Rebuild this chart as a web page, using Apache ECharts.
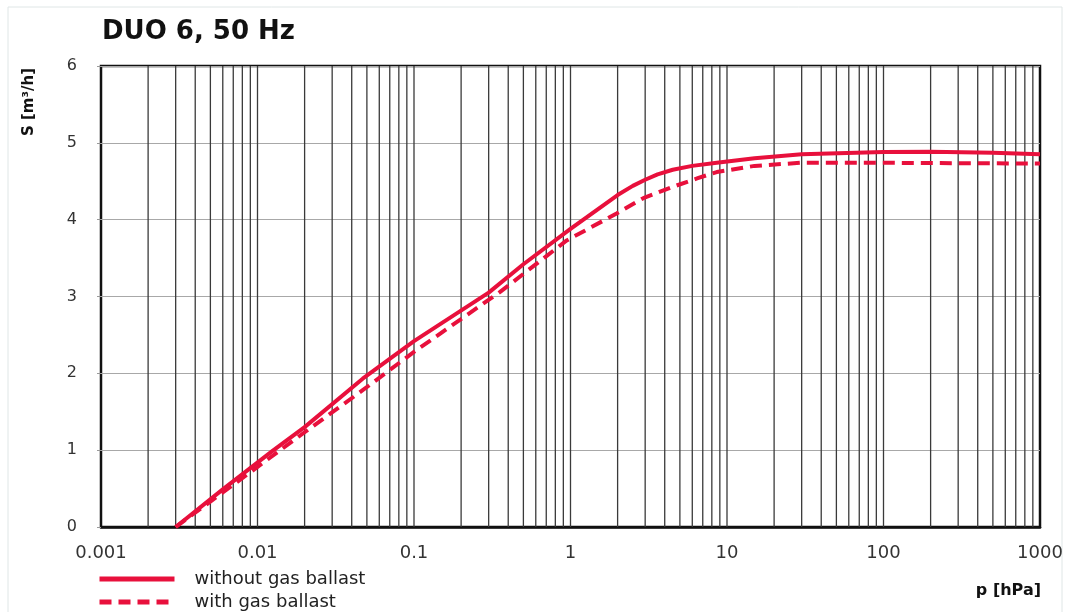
<!DOCTYPE html>
<html>
<head>
<meta charset="utf-8">
<script src="https://cdn.jsdelivr.net/npm/echarts@6/dist/echarts.min.js"></script>
<style>
html,body{margin:0;padding:0;background:#fff;}
#chart{width:1074px;height:612px;}
</style>
</head>
<body>
<div id="chart"></div>
<script>
// ---- data ----
const chartTitle = 'DUO 6, 50 Hz';
const yAxisName = 'S [m³/h]';
const xAxisName = 'p [hPa]';
const seriesNames = ['without gas ballast', 'with gas ballast'];

// without gas ballast: pressure (hPa) and pumping speed (m³/h)
const pWithout = [0.003, 0.006, 0.0123, 0.02, 0.047, 0.1, 0.3, 0.5, 1, 2, 2.5, 3, 3.6, 4.5, 6, 8.6, 15, 30, 100, 200, 500, 1000];
const sWithout = [0, 0.49, 0.98, 1.3, 1.93, 2.42, 3.05, 3.42, 3.88, 4.32, 4.44, 4.52, 4.59, 4.65, 4.7, 4.74, 4.8, 4.85, 4.88, 4.885, 4.87, 4.85];

// with gas ballast
const pWith = [0.003, 0.006, 0.0196, 0.047, 0.1, 0.355, 0.946, 1.97, 2.92, 4.54, 6.5, 8.6, 15, 29.3, 100, 1000];
const sWith = [0, 0.45, 1.22, 1.78, 2.28, 3.06, 3.73, 4.08, 4.28, 4.43, 4.54, 4.62, 4.7, 4.74, 4.74, 4.73];

// axis ticks
const xTickLabels = ['0.001', '0.01', '0.1', '1', '10', '100', '1000'];
const xDecades = [0.001, 0.01, 0.1, 1, 10, 100];
const gridMultipliers = [1, 2, 3, 4, 5, 6, 7, 8, 9];
const yTicks = [0, 1, 2, 3, 4, 5, 6];

// ---- build ----
const red = '#e8103c';
const vLineColor = '#3a3a3a';
const fontFam = '"DejaVu Sans", Arial, sans-serif';
const Y_MIN = 0, Y_MAX = 6;

const pair = (xs, ys) => xs.map((x, i) => [x, ys[i]]);
const vLineValues = [];
xDecades.forEach((d, i) => gridMultipliers.forEach(m => {
  if (i === 0 && m === 1) return; // left edge is the frame
  vLineValues.push([+(d * m).toPrecision(3), Y_MIN]);
}));

const legendBase = {
  orient: 'vertical',
  left: 97,
  padding: 0,
  itemWidth: 75, itemHeight: 14,
  itemStyle: { color: 'rgba(0,0,0,0)', borderWidth: 0, opacity: 0 },
  lineStyle: { width: 5 },
  textStyle: { fontFamily: fontFam, fontSize: 18, color: '#222', padding: [0, 0, 0, 15] }
};

const chart = echarts.init(document.getElementById('chart'), null, { renderer: 'canvas' });
chart.setOption({
  animation: false,
  backgroundColor: '#fff',
  title: {
    text: chartTitle,
    left: 102, top: 19,
    padding: 0,
    textStyle: { fontFamily: fontFam, fontSize: 26, fontWeight: 'bold', color: '#111' }
  },
  grid: {
    left: 101, right: 34, top: 66, bottom: 85,
    show: true, borderColor: '#111', borderWidth: 2.5, backgroundColor: 'transparent'
  },
  legend: [
    Object.assign({}, legendBase, { data: [seriesNames[0]], top: 570 }),
    Object.assign({}, legendBase, { data: [seriesNames[1]], top: 593 })
  ],
  xAxis: {
    type: 'log', logBase: 10, min: 0.001, max: 1000,
    axisLine: { show: true, onZero: false, lineStyle: { color: '#111', width: 2.5 } },
    axisTick: { show: false },
    axisLabel: {
      margin: 17, fontFamily: fontFam, fontSize: 18, color: '#333',
      formatter: v => xTickLabels[Math.round(Math.log10(v)) + 3]
    },
    splitLine: { show: false }
  },
  yAxis: {
    type: 'value', min: Y_MIN, max: Y_MAX, interval: 1, position: 'left',
    axisLine: { show: false },
    axisTick: { show: true, length: 4, lineStyle: { color: '#999' } },
    axisLabel: { margin: 24, fontFamily: fontFam, fontSize: 16, color: '#333',
      formatter: v => String(yTicks[v]) },
    splitLine: { show: true, lineStyle: { color: '#a8a8a8', width: 1 } }
  },
  graphic: [
    { type: 'rect', shape: { x: 8, y: 7, width: 1054, height: 610 }, style: { fill: 'none', stroke: '#dfe6e6', lineWidth: 1 }, silent: true, z: -10 },
    { type: 'text', x: 29, y: 102, rotation: Math.PI / 2,
      style: { text: yAxisName, fontFamily: fontFam, fontSize: 15, fontWeight: 'bold', fill: '#111', align: 'center', verticalAlign: 'middle' } },
    { type: 'text', x: 1041, y: 591,
      style: { text: xAxisName, fontFamily: fontFam, fontSize: 16, fontWeight: 'bold', fill: '#111', align: 'right', verticalAlign: 'middle' } }
  ],
  series: [
    {
      name: 'grid-lines', type: 'custom', z: 1, silent: true,
      data: vLineValues,
      renderItem: (params, api) => {
        const v = api.value(0);
        const p0 = api.coord([v, Y_MIN]);
        const p1 = api.coord([v, Y_MAX]);
        return {
          type: 'line',
          shape: { x1: p0[0], y1: p0[1], x2: p1[0], y2: p1[1] },
          style: { stroke: vLineColor, lineWidth: 1.3 }
        };
      }
    },
    {
      name: seriesNames[0], type: 'line', z: 5,
      data: pair(pWithout, sWithout),
      showSymbol: false, symbol: 'none',
      smooth: false,
      lineStyle: { color: red, width: 4, type: 'solid', join: 'round' },
      itemStyle: { color: red }
    },
    {
      name: seriesNames[1], type: 'line', z: 4,
      data: pair(pWith, sWith),
      showSymbol: false, symbol: 'none',
      smooth: false,
      lineStyle: { color: red, width: 4, type: [12, 7], join: 'round' },
      itemStyle: { color: red }
    }
  ]
});
</script>
</body>
</html>
